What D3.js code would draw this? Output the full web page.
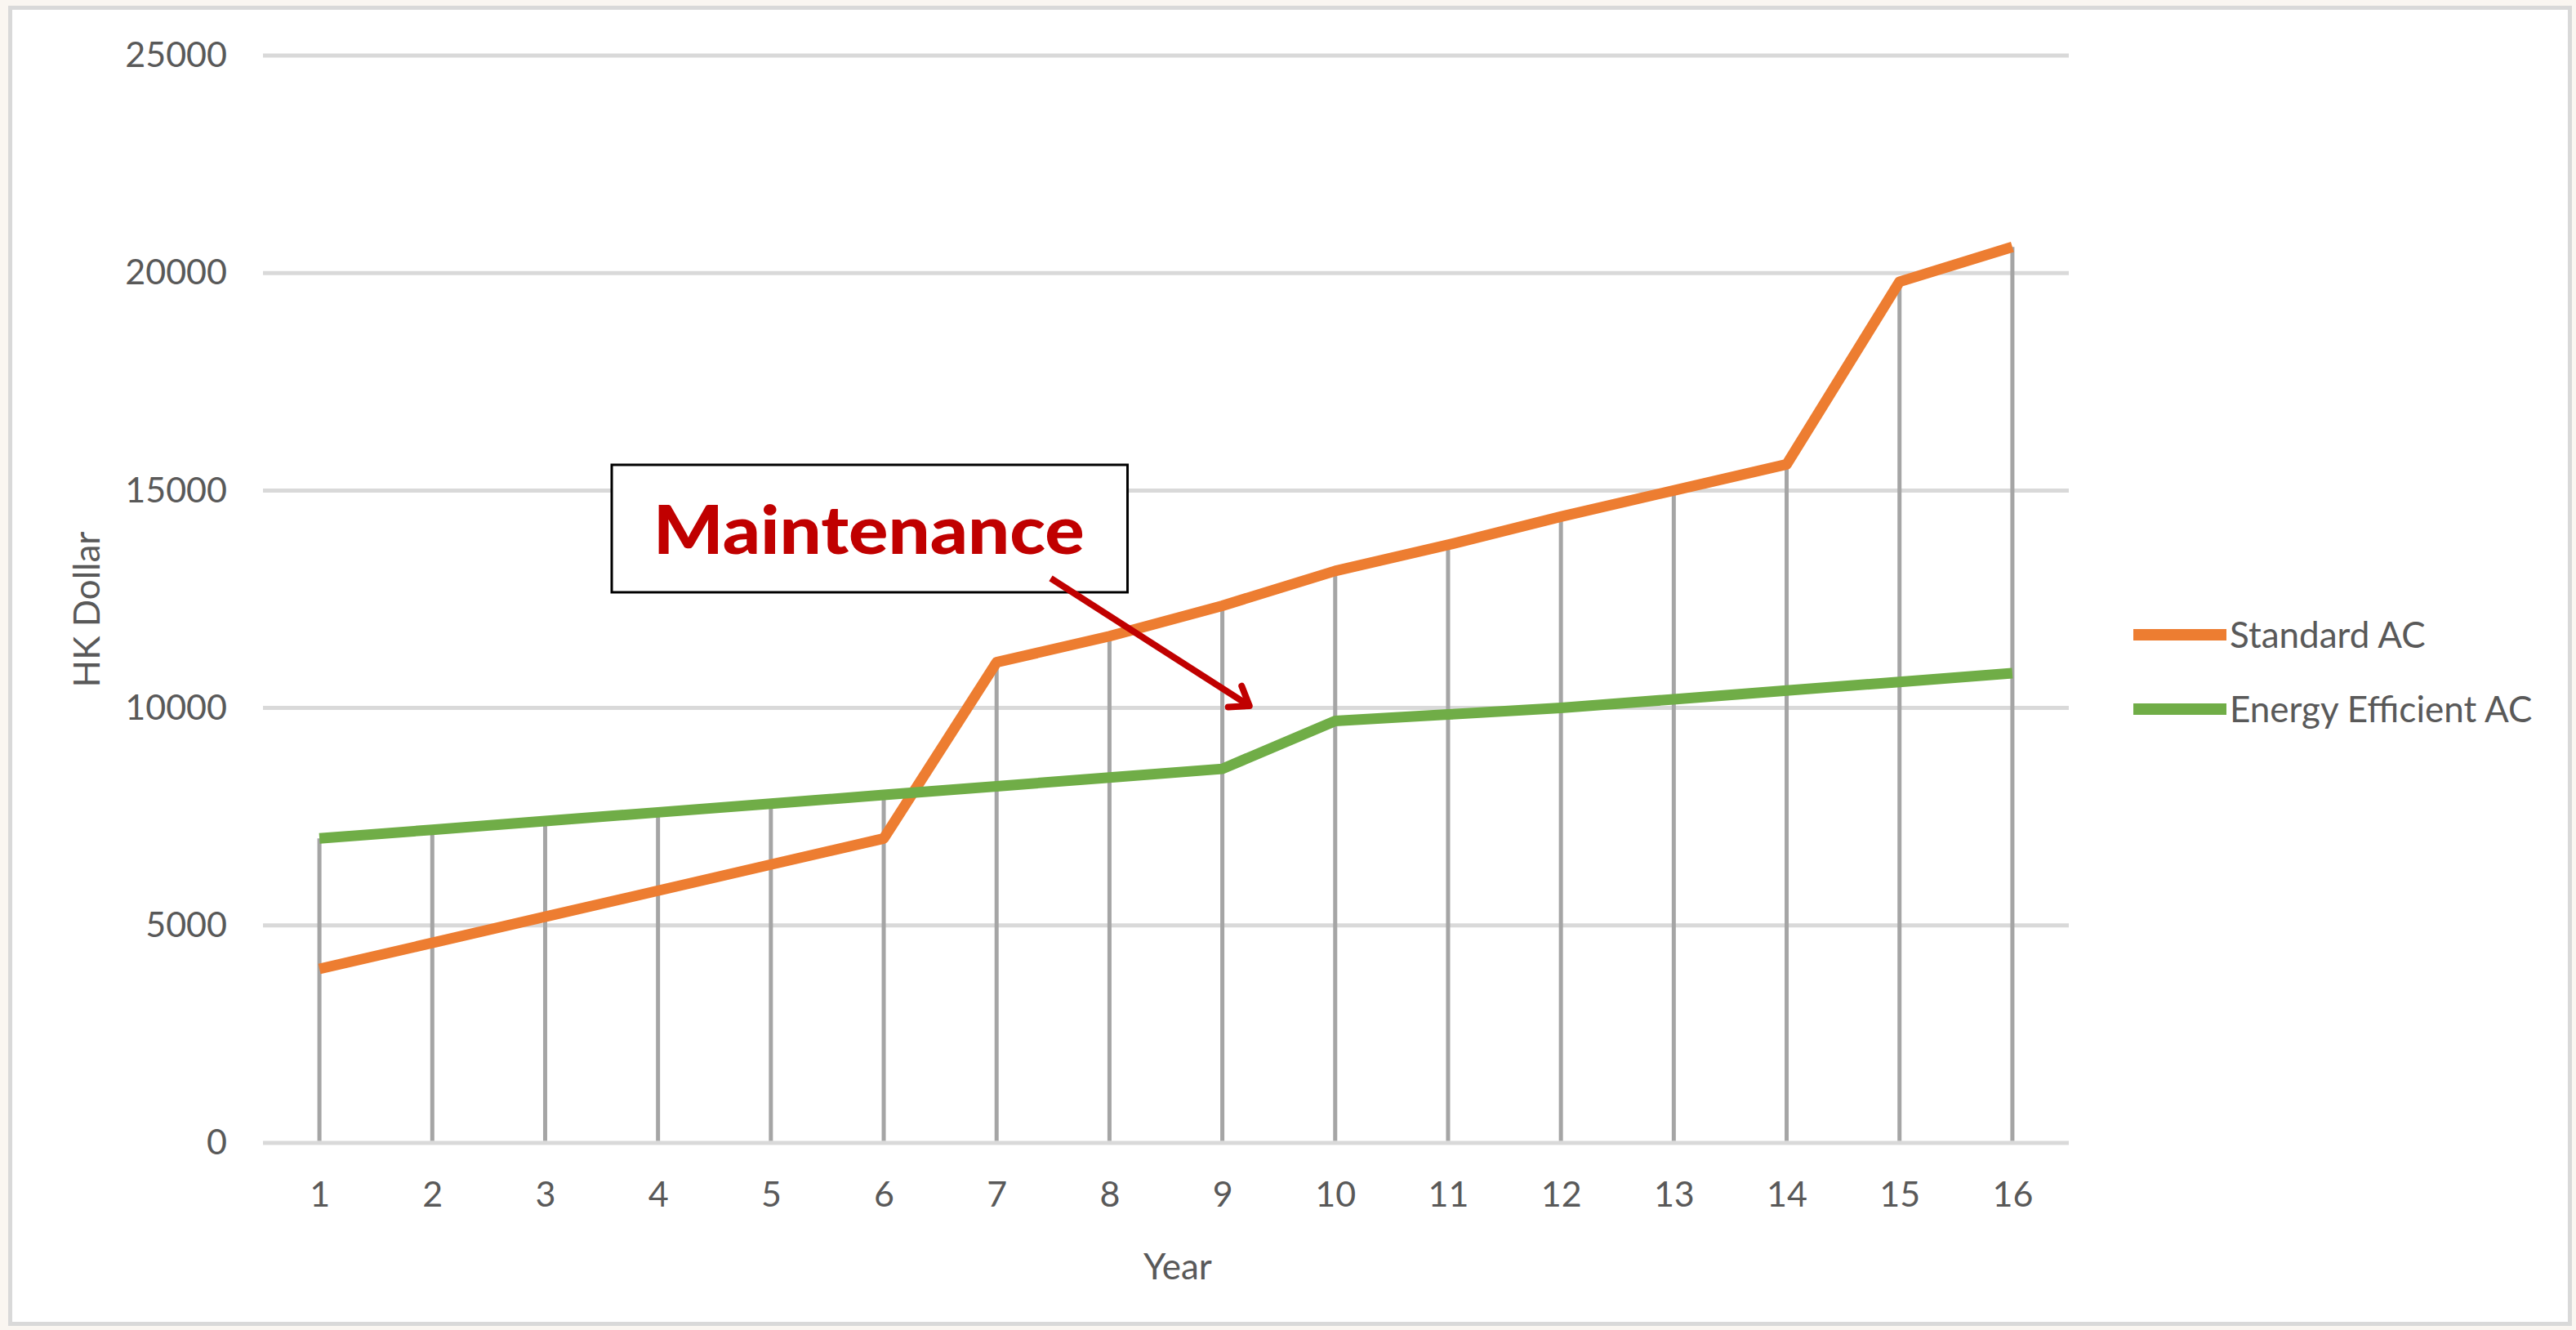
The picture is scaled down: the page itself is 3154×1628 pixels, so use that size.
<!DOCTYPE html>
<html>
<head>
<meta charset="utf-8">
<script src="https://cdn.jsdelivr.net/npm/d3@7/dist/d3.min.js"></script>
<style>
  html, body { margin: 0; padding: 0; background: #faf6f1; }
  svg { display: block; }
  text { font-family: Lato, "Open Sans", sans-serif; }
</style>
</head>
<body>
<svg id="chart" width="3154" height="1628"></svg>
<script>
// ---- data ----
const years = [1, 2, 3, 4, 5, 6, 7, 8, 9, 10, 11, 12, 13, 14, 15, 16];
const standardAC = [4000, 4600, 5200, 5800, 6400, 7000, 11050, 11650, 12350, 13150, 13750, 14400, 15000, 15600, 19800, 20600];
const energyEfficientAC = [7000, 7200, 7400, 7600, 7800, 8000, 8200, 8400, 8600, 9700, 9850, 10000, 10200, 10400, 10600, 10800];
const yTicks = [0, 5000, 10000, 15000, 20000, 25000];
const seriesNames = ["Standard AC", "Energy Efficient AC"];
const seriesColors = ["#ed7d31", "#70ad47"];
const xTitle = "Year";
const yTitle = "HK Dollar";
const annotationText = "Maintenance";
// annotation box and arrow in data units (year, HK$)
const annotationBox = { x0: 3.59, x1: 8.16, y0: 15590, y1: 12660 };
const annotationArrow = { fromYear: 7.48, fromVal: 12980, toYear: 9.24, toVal: 10050 };

// ---- layout ----
const svg = d3.select("#chart");
const W = 3154, H = 1628;
const plot = { left: 322, right: 2533, top: 68, bottom: 1399 };

// frame
svg.append("rect").attr("x", 12.5).attr("y", 9.5).attr("width", W - 20).attr("height", H - 17)
  .attr("fill", "#ffffff").attr("stroke", "#d9d9d9").attr("stroke-width", 5);

const x = d3.scalePoint().domain(years).range([plot.left, plot.right]).padding(0.5);
const step = x.step();
const xc = v => x(1) + (v - 1) * step; // continuous year position
const y = d3.scaleLinear().domain([0, 25000]).range([plot.bottom, plot.top]);

// gridlines
svg.append("g").selectAll("line").data(yTicks).join("line")
  .attr("x1", plot.left).attr("x2", plot.right)
  .attr("y1", d => y(d)).attr("y2", d => y(d))
  .attr("stroke", "#d9d9d9").attr("stroke-width", 5);

// y axis labels
const yAxis = svg.append("g").attr("transform", `translate(${plot.left},0)`)
  .call(d3.axisLeft(y).tickValues(yTicks).tickSize(0).tickPadding(44).tickFormat(d3.format("d")));
yAxis.select(".domain").remove();
yAxis.selectAll("text").attr("font-size", 43).attr("fill", "#595959")
  .attr("font-family", "Lato, sans-serif").attr("dy", "0.32em");

// x axis labels
const xAxis = svg.append("g").attr("transform", `translate(0,${plot.bottom})`)
  .call(d3.axisBottom(x).tickSize(0).tickPadding(47));
xAxis.select(".domain").remove();
xAxis.selectAll("text").attr("font-size", 43).attr("fill", "#595959")
  .attr("font-family", "Lato, sans-serif");

// drop lines
svg.append("g").selectAll("line").data(years).join("line")
  .attr("x1", d => x(d)).attr("x2", d => x(d))
  .attr("y1", y(0) - 2.5)
  .attr("y2", (d, i) => y(Math.max(standardAC[i], energyEfficientAC[i])))
  .attr("stroke", "#a5a5a5").attr("stroke-width", 5);

// series lines
const line = d3.line().x(d => x(d[0])).y(d => y(d[1]));
[standardAC, energyEfficientAC].forEach((vals, s) => {
  svg.append("path")
    .datum(years.map((yr, i) => [yr, vals[i]]))
    .attr("d", line)
    .attr("fill", "none")
    .attr("stroke", seriesColors[s])
    .attr("stroke-width", 13)
    .attr("stroke-linejoin", "round");
});

// axis titles
svg.append("text").attr("x", 1442).attr("y", 1566).attr("text-anchor", "middle")
  .attr("font-size", 44).attr("fill", "#595959").text(xTitle);
svg.append("text").attr("transform", "translate(122,746) rotate(-90)").attr("text-anchor", "middle")
  .attr("font-size", 44).attr("fill", "#595959").text(yTitle);

// legend
const legend = svg.append("g");
const legendY = [777, 868];
seriesNames.forEach((name, i) => {
  legend.append("line").attr("x1", 2612).attr("x2", 2726)
    .attr("y1", legendY[i]).attr("y2", legendY[i])
    .attr("stroke", seriesColors[i]).attr("stroke-width", 14);
  legend.append("text").attr("x", 2730).attr("y", legendY[i]).attr("dy", "0.36em")
    .attr("font-size", 44).attr("fill", "#595959").text(name);
});

// annotation box
const bx0 = xc(annotationBox.x0), bx1 = xc(annotationBox.x1);
const by0 = y(annotationBox.y0), by1 = y(annotationBox.y1);
svg.append("rect").attr("x", bx0).attr("y", by0).attr("width", bx1 - bx0).attr("height", by1 - by0)
  .attr("fill", "#ffffff").attr("stroke", "#000000").attr("stroke-width", 3);
svg.append("text").attr("x", (bx0 + bx1) / 2 - 1).attr("y", by0 + 109)
  .attr("text-anchor", "middle")
  .attr("font-family", "Lato, sans-serif").attr("font-weight", 900)
  .attr("font-size", 82).attr("fill", "#c00000")
  .attr("textLength", 528).attr("lengthAdjust", "spacingAndGlyphs")
  .text(annotationText);

// arrow
const ax0 = xc(annotationArrow.fromYear), ay0 = y(annotationArrow.fromVal);
const ax1 = xc(annotationArrow.toYear), ay1 = y(annotationArrow.toVal);
const ang = Math.atan2(ay1 - ay0, ax1 - ax0);
const headLen = 26, headAng = Math.PI / 5;
const arrowG = svg.append("g").attr("stroke", "#c00000").attr("stroke-width", 8)
  .attr("stroke-linecap", "round").attr("stroke-linejoin", "round").attr("fill", "none");
arrowG.append("line").attr("x1", ax0).attr("y1", ay0).attr("x2", ax1).attr("y2", ay1)
  .attr("stroke-linecap", "butt");
arrowG.append("path").attr("d", d3.line()([
  [ax1 - headLen * Math.cos(ang - headAng), ay1 - headLen * Math.sin(ang - headAng)],
  [ax1, ay1],
  [ax1 - headLen * Math.cos(ang + headAng), ay1 - headLen * Math.sin(ang + headAng)]
]));
</script>
</body>
</html>
